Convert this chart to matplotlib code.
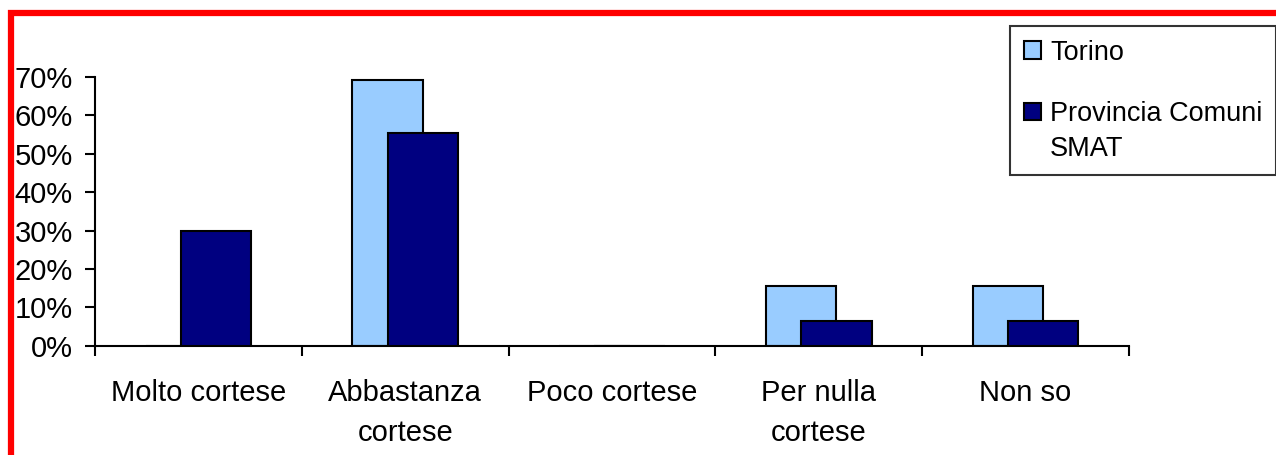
import numpy as np
import matplotlib.pyplot as plt
from matplotlib.patches import Rectangle
from matplotlib.legend_handler import HandlerPatch

plt.rcParams['font.family'] = ['Liberation Sans', 'DejaVu Sans']

# data
categories = ["Molto cortese", "Abbastanza\ncortese", "Poco cortese", "Per nulla\ncortese", "Non so"]
torino = [0.0, 69.2, 0.0, 15.5, 15.5]
provincia = [30.0, 55.5, 0.0, 6.5, 6.5]
series_names = ["Torino", "Provincia Comuni\nSMAT"]

fig = plt.figure(figsize=(12.76, 4.55), dpi=100)
ax = fig.add_axes([95 / 1276, 1 - 345.7 / 455, (1129 - 95) / 1276, (345.7 - 77) / 455])

x = np.arange(len(categories))
w = 0.34
off = 0.085
b1 = ax.bar(x - off, torino, w, color="#99CCFF", edgecolor="black", linewidth=1.5,
            label=series_names[0], zorder=2)
b2 = ax.bar(x + off, provincia, w, color="#000080", edgecolor="black", linewidth=1.5,
            label=series_names[1], zorder=3)

ax.set_xlim(-0.5, len(categories) - 0.5)
ax.set_ylim(0, 70)
ax.set_yticks(np.arange(0, 71, 10))
ax.set_yticklabels([f"{v}%" for v in range(0, 71, 10)])

# category labels at centres, tick marks at the boundaries
ax.set_xticks(x)
ax.set_xticklabels(categories, linespacing=1.55)
ax.set_xticks(np.arange(-0.5, len(categories)), minor=True)
ax.tick_params(axis="x", which="major", length=0, pad=24, labelsize=21)
ax.tick_params(axis="x", which="minor", length=7, width=1.5, direction="out")
ax.tick_params(axis="y", length=7, width=1.5, pad=9, labelsize=21)

for s in ["top", "right"]:
    ax.spines[s].set_visible(False)
for s in ["left", "bottom"]:
    ax.spines[s].set_linewidth(1.5)


# legend square sits next to the first line of a two-line label
def top_square(legend, orig_handle, xdescent, ydescent, width, height, fontsize):
    return Rectangle((-xdescent, -ydescent + 0.75 * fontsize), width, height)


h1 = b1.patches[0]
h2 = b2.patches[0]
leg = fig.legend([h1, h2], series_names, loc="upper left",
                 bbox_to_anchor=(1010 / 1276, 1 - 26 / 455),
                 fontsize=19.5, frameon=True, fancybox=False, edgecolor="black",
                 handlelength=0.63, handleheight=0.63, handletextpad=0.35,
                 labelspacing=1.3, borderpad=0.5, borderaxespad=0,
                 handler_map={h2: HandlerPatch(patch_func=top_square)})
leg.get_frame().set_linewidth(1.5)
for t in leg.get_texts():
    t.set_linespacing(1.45)

# red frame around the chart
fig.patches.append(Rectangle((11 / 1276, -0.2), 1.2, 1.2 - 13 / 455,
                             transform=fig.transFigure, fill=False,
                             edgecolor="red", linewidth=4.5))

fig.savefig("out.png", dpi=100)
